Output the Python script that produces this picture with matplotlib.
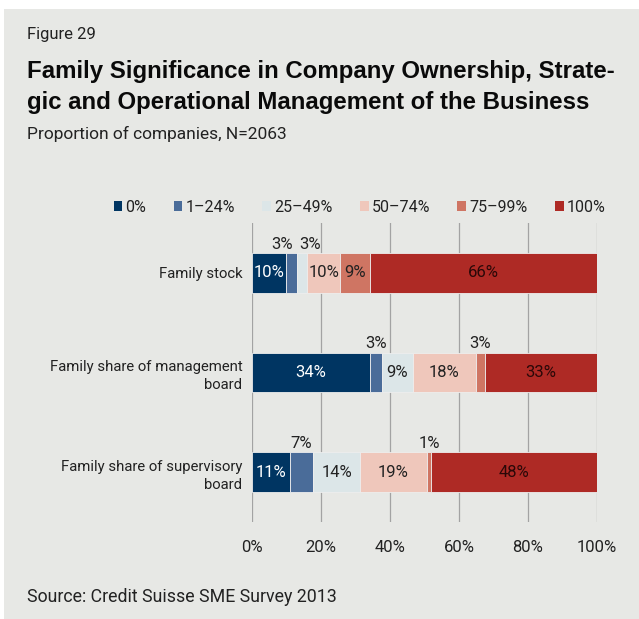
import matplotlib.pyplot as plt
from matplotlib.patches import Rectangle, Patch

# ===============================
# DATA
# ===============================
categories = ["Family stock",
              "Family share of management\nboard",
              "Family share of supervisory\nboard"]
bands = ["0%", "1–24%", "25–49%", "50–74%", "75–99%", "100%"]

stock = [9.8, 3.3, 2.9, 9.5, 8.7, 65.8]
mgmt = [34.2, 3.4, 9.0, 18.2, 2.7, 32.5]
superv = [11.0, 6.8, 13.5, 19.4, 1.3, 48.0]

stock_lbl = ["10%", "3%", "3%", "10%", "9%", "66%"]
mgmt_lbl = ["34%", "3%", "9%", "18%", "3%", "33%"]
superv_lbl = ["11%", "7%", "14%", "19%", "1%", "48%"]

xticks = [0, 20, 40, 60, 80, 100]

# ===============================
# STYLE
# ===============================
colors = ["#003562", "#4a6c99", "#dce6e8", "#efc7bb", "#cf7563", "#ae2a25"]
text_col = ["white", "white", "#222222", "#222222", "#222222", "#2a0808"]
bg = "#e7e8e5"
ink = "#222222"
font = "Roboto"
bold = "Liberation Sans"

plt.rcParams["font.family"] = font

fig = plt.figure(figsize=(6.39, 6.19), dpi=100)
fig.patch.set_facecolor("white")
fig.patches.append(Rectangle((4 / 639, 0), 1, 1 - 9 / 619, transform=fig.transFigure,
                             facecolor=bg, edgecolor="none", zorder=-10))

ax = fig.add_axes([252 / 639, 1 - 522 / 619, (597 - 252) / 639, (522 - 223) / 619])
ax.set_facecolor("none")

rows = [stock, mgmt, superv]
row_lbls = [stock_lbl, mgmt_lbl, superv_lbl]
# nudges (points) for small labels that would collide
shift = {(0, 1): -7, (0, 2): 6}

for i, (vals, lbls) in enumerate(zip(rows, row_lbls)):
    left = 0
    for j, v in enumerate(vals):
        ax.barh(i, v, left=left, height=0.4, color=colors[j],
                edgecolor="#eeeeee", linewidth=0.6, zorder=3)
        cx = left + v / 2
        if v < 8:
            ax.annotate(lbls[j], (cx, i - 0.2), xytext=(shift.get((i, j), 0), 1),
                        textcoords="offset points", ha="center", va="bottom",
                        fontsize=12, color=ink)
        else:
            ax.text(cx, i, lbls[j], ha="center", va="center", fontsize=12,
                    color=text_col[j], zorder=4)
        left += v

ax.set_xlim(0, 100)
ax.set_ylim(2.5, -0.5)
ax.set_yticks(range(3))
ax.set_yticklabels(categories, fontsize=10.7, color=ink, linespacing=1.4)
ax.set_xticks(xticks)
ax.set_xticklabels([f"{t}%" for t in xticks], fontsize=12, color=ink)
ax.tick_params(axis="both", length=0)
ax.tick_params(axis="x", pad=13)
ax.tick_params(axis="y", pad=7)
for s in ax.spines.values():
    s.set_visible(False)
ax.grid(axis="x", color="#a3a3a3", linewidth=0.9, zorder=0)

handles = [Patch(facecolor=c, edgecolor="none") for c in colors]
fig.legend(handles, bands, loc="center right", bbox_to_anchor=(620 / 639, 1 - 207 / 619),
           ncol=6, frameon=False, handlelength=0.55, handleheight=0.55,
           handletextpad=0.2, columnspacing=1.7,
           prop={"family": font, "size": 11.5}, labelcolor=ink)

fig.text(27 / 639, 1 - 35 / 619, "Figure 29", fontsize=12, va="center", color=ink)
fig.text(27 / 639, 1 - 87 / 619,
         "Family Significance in Company Ownership, Strate-\ngic and Operational Management of the Business",
         fontsize=17.3, fontweight="bold", family=bold, va="center", color="#0a0a0a",
         linespacing=1.4)
fig.text(27 / 639, 1 - 134 / 619, "Proportion of companies, N=2063", fontsize=12.5,
         va="center", color=ink)
fig.text(27 / 639, 1 - 597 / 619, "Source: Credit Suisse SME Survey 2013", fontsize=12.8,
         va="center", color=ink)

fig.savefig("out.png", dpi=100, facecolor=fig.get_facecolor())
